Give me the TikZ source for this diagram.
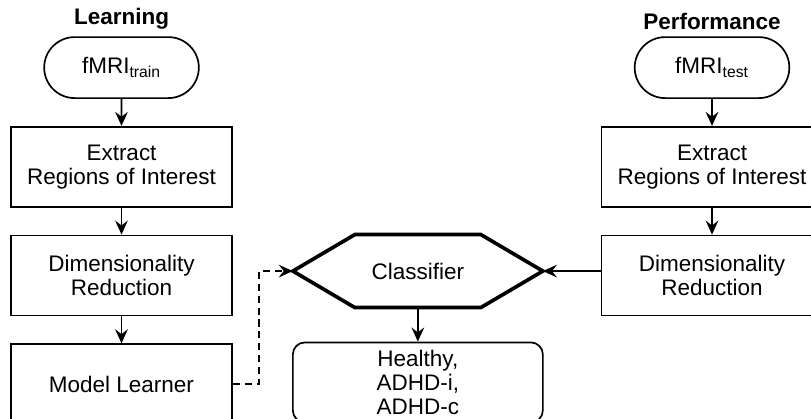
\documentclass[tikz,border=0pt]{standalone}
\usepackage{fontspec}
\setmainfont{Liberation Sans}
\usetikzlibrary{
  positioning,
  shapes.misc,
  arrows.meta,
  calc
}

\begin{document}
\begin{tikzpicture}[
  node distance=0.675cm and 2cm,
  every node/.style={font=\fontsize{16}{17}\selectfont},
  title/.style={font=\fontsize{16}{17}\selectfont\bfseries},
  data/.style={draw, rounded rectangle, line width=1.2pt, minimum width=4.1cm, minimum height=1.525cm},
  process/.style={draw, rectangle, line width=1.2pt, minimum width=5.525cm, minimum height=2cm, align=center},
  result/.style={draw, rectangle, rounded corners=0.3cm, line width=1.2pt, minimum width=6.25cm, minimum height=2cm, align=center},
  arrow/.style={-{Stealth[length=10pt, width=9pt, inset=3.5pt]}, line width=1.2pt}
]

\path[use as bounding box, clip] (0,0) rectangle (20.275,10.45);

% Learning
\node[data] (trainfmri) at (3.0375,8.76) {fMRI\textsubscript{train}};
\node[title, above=0.05cm of trainfmri] (learning) {Learning};
\node[process, below=of trainfmri] (extractL) {Extract\\Regions of Interest};
\node[process, below=of extractL] (dimL) {Dimensionality\\Reduction};
\node[process, below=of dimL] (modelL) {Model Learner};

% Performance
\node[data] (testfmri) at (17.8,8.76) {fMRI\textsubscript{test}};
\node[title, above=0.05cm of testfmri] (performance) {Performance};
\node[process, below=of testfmri] (extractR) {Extract\\Regions of Interest};
\node[process, below=of extractR] (dimR) {Dimensionality\\Reduction};

% Classifier
\node[minimum width=6.25cm, minimum height=1.825cm, outer sep=0pt, right=1.5cm of dimL, yshift=0.11cm] (classifier) {Classifier};
\draw[line width=2.6pt] (classifier.west) -- ($(classifier.north west)+(1.55,0)$) -- ($(classifier.north east)+(-1.55,0)$)
  -- (classifier.east) -- ($(classifier.south east)+(-1.55,0)$) -- ($(classifier.south west)+(1.55,0)$) -- cycle;
\node[result, below=0.85cm of classifier] (labels) {Healthy,\\ADHD-i,\\ADHD-c};

% Arrows down the columns
\draw[arrow] (trainfmri) -- (extractL);
\draw[arrow] (extractL) -- (dimL);
\draw[arrow] (dimL) -- (modelL);
\draw[arrow] (testfmri) -- (extractR);
\draw[arrow] (extractR) -- (dimR);

% Arrows into and out of the classifier
\draw[arrow, dash pattern=on 5pt off 3.5pt] (modelL.east) -- ++(0.65,0) |- (classifier.west);
\draw[arrow] (dimR.west |- classifier.east) -- (classifier.east);
\draw[arrow] (classifier) -- (labels);

\end{tikzpicture}
\end{document}
